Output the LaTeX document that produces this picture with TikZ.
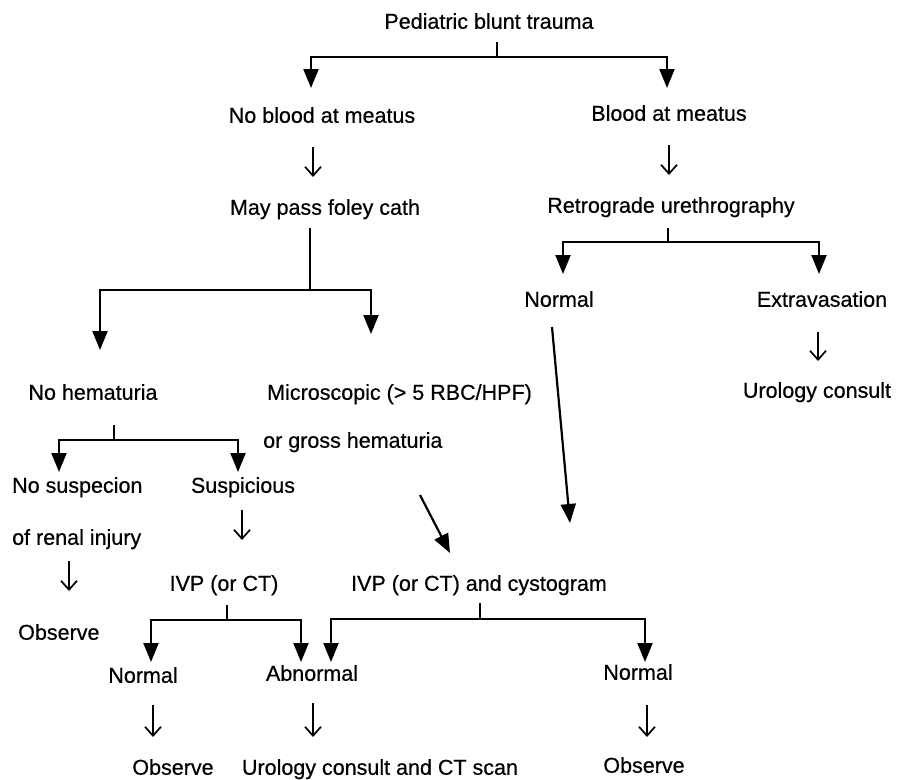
\documentclass[tikz,border=0pt]{standalone}
\usepackage{fontspec}
\setmainfont{Liberation Sans}[FakeBold=0.5]
\usetikzlibrary{arrows.meta}
\begin{document}
\begin{tikzpicture}[x=1pt,y=-1pt,
  txt/.style={inner sep=0pt,text height=15.5pt,text depth=0pt,font=\fontsize{21.5}{25}\selectfont},
  ln/.style={line width=2.2pt},
  bigarrow/.style={line width=2.2pt,-{Triangle[length=19pt,width=15pt]}},
  smallarrow/.style={line width=1.7pt,-{Straight Barb[length=9pt,width=16pt,line width=1.7pt]}}]
\useasboundingbox[fill=white] (0,0) rectangle (899,779);
% nodes
\node[txt] (root) at (489,21) {Pediatric blunt trauma};
\node[txt] (nob) at (322,115) {No blood at meatus};
\node[txt] (blood) at (669,113) {Blood at meatus};
\node[txt] (foley) at (325,207) {May pass foley cath};
\node[txt] (retro) at (671,205) {Retrograde urethrography};
\node[txt] (nrmA) at (559,299) {Normal};
\node[txt] (extra) at (822,299) {Extravasation};
\node[txt] (uroA) at (817,390) {Urology consult};
\node[txt] (noh) at (93,392) {No hematuria};
\node[txt,anchor=west] (micro) at (267,392) {Microscopic (> 5 RBC/HPF)};
\node[txt,anchor=west] (gross) at (263,440) {or gross hematuria};
\node[txt,anchor=west] (nosus) at (12,485) {No suspecion};
\node[txt] (susp) at (243,485) {Suspicious};
\node[txt,anchor=west] (renal) at (12,537) {of renal injury};
\node[txt,anchor=west] (obsA) at (18,632) {Observe};
\node[txt] (ivp) at (224,583) {IVP (or CT)};
\node[txt] (ivpc) at (479,583) {IVP (or CT) and cystogram};
\node[txt] (nrmB) at (143,675) {Normal};
\node[txt] (abn) at (312,673) {Abnormal};
\node[txt] (nrmC) at (638,672) {Normal};
\node[txt] (obsB) at (173,767) {Observe};
\node[txt] (uroB) at (380,767) {Urology consult and CT scan};
\node[txt] (obsC) at (644,765) {Observe};
% junction coordinates
\coordinate (rootS) at (497,42);
\coordinate (rootJ) at (497,57);
\coordinate (nobT) at (311,88);
\coordinate (bloodT) at (667,88);
\coordinate (foleyS) at (310,228);
\coordinate (foleyJ) at (310,290);
\coordinate (nohT) at (100,350);
\coordinate (microT) at (371,334);
\coordinate (retroS) at (668,228);
\coordinate (retroJ) at (668,242);
\coordinate (nrmAT) at (563,274);
\coordinate (extraT) at (819,274);
\coordinate (nohS) at (114,425);
\coordinate (nohJ) at (114,440);
\coordinate (nosusT) at (59,472);
\coordinate (suspT) at (238,472);
\coordinate (ivpS) at (227,605);
\coordinate (ivpJ) at (227,620);
\coordinate (nrmBT) at (151,662);
\coordinate (abnTa) at (301,662);
\coordinate (ivpcS) at (480,603);
\coordinate (ivpcJ) at (480,619);
\coordinate (abnTb) at (331,662);
\coordinate (nrmCT) at (645,662);
\coordinate (longS) at (552,327);
\coordinate (longT) at (570,523);
\coordinate (diagS) at (420,495);
\coordinate (diagT) at (450,553);
% branches
\draw[ln] (rootS) -- (rootJ);
\draw[bigarrow] (rootJ) -| (nobT);
\draw[bigarrow] (rootJ) -| (bloodT);
\draw[ln] (foleyS) -- (foleyJ);
\draw[bigarrow] (foleyJ) -| (nohT);
\draw[bigarrow] (foleyJ) -| (microT);
\draw[ln] (retroS) -- (retroJ);
\draw[bigarrow] (retroJ) -| (nrmAT);
\draw[bigarrow] (retroJ) -| (extraT);
\draw[ln] (nohS) -- (nohJ);
\draw[bigarrow] (nohJ) -| (nosusT);
\draw[bigarrow] (nohJ) -| (suspT);
\draw[ln] (ivpS) -- (ivpJ);
\draw[bigarrow] (ivpJ) -| (nrmBT);
\draw[bigarrow] (ivpJ) -| (abnTa);
\draw[ln] (ivpcS) -- (ivpcJ);
\draw[bigarrow] (ivpcJ) -| (abnTb);
\draw[bigarrow] (ivpcJ) -| (nrmCT);
\draw[bigarrow] (longS) -- (longT);
\draw[bigarrow] (diagS) -- (diagT);
% small arrows
\draw[smallarrow] (313,147) -- (313,177);
\draw[smallarrow] (669,145) -- (669,175);
\draw[smallarrow] (818,332) -- (818,361);
\draw[smallarrow] (242,510) -- (242,540);
\draw[smallarrow] (69,561) -- (69,591);
\draw[smallarrow] (153,705) -- (153,737);
\draw[smallarrow] (313,703) -- (313,737);
\draw[smallarrow] (647,705) -- (647,737);
\end{tikzpicture}
\end{document}
